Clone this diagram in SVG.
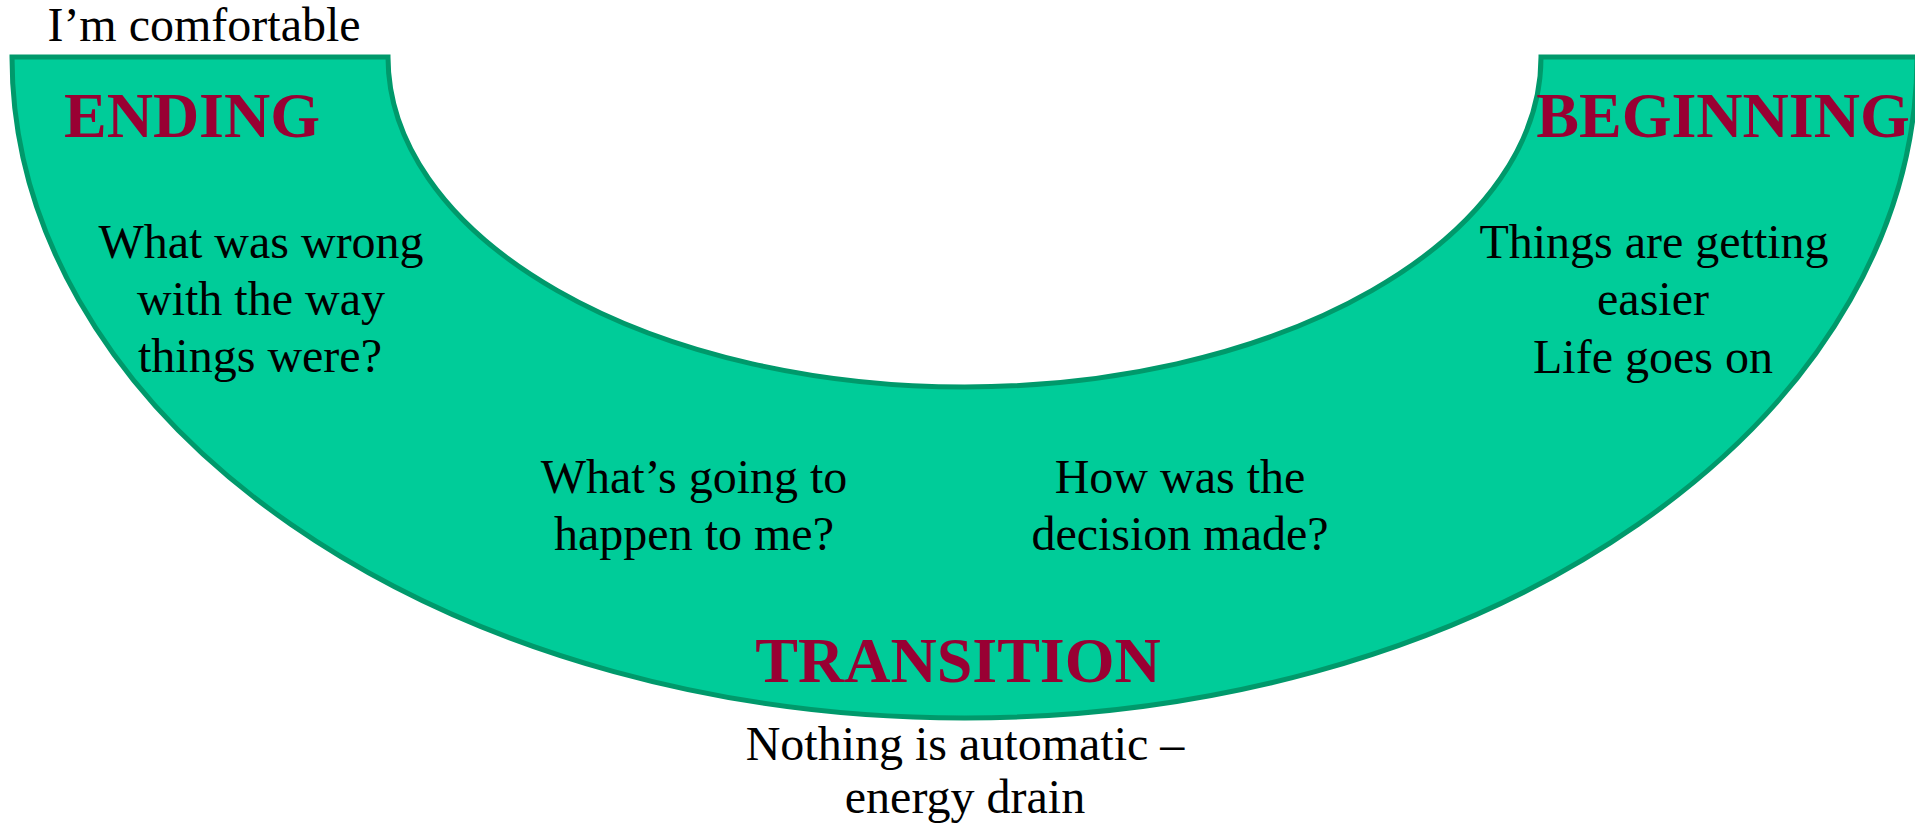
<svg xmlns="http://www.w3.org/2000/svg" width="1915" height="829" viewBox="0 0 1915 829">
  <style>
    .band { fill: #00CC99; stroke: #00996B; stroke-width: 5; stroke-linejoin: miter; }
    .t { font-family: "Liberation Serif", "Times New Roman", serif; font-size: 48px; fill: #000000; text-anchor: middle; }
    .h { font-family: "Liberation Serif", "Times New Roman", serif; font-size: 64px; font-weight: bold; fill: #990033; text-anchor: middle; }
  </style>
  <rect width="1915" height="829" fill="#FFFFFF"/>
  <g id="band">
    <path class="band" d="M 12 57 A 952.5 661 0 0 0 1917 57 L 1541 57 A 576.5 330 0 0 1 388 57 Z"/>
  </g>
  <g id="comfortable">
    <text class="t" x="204" y="41">I’m comfortable</text>
  </g>
  <g id="ending">
    <text class="h" x="192" y="137">ENDING</text>
    <text class="t" x="261" y="258">What was wrong</text>
    <text class="t" x="261" y="315">with the way</text>
    <text class="t" x="260" y="372">things were?</text>
  </g>
  <g id="beginning">
    <text class="h" x="1723" y="137">BEGINNING</text>
    <text class="t" x="1654" y="258">Things are getting</text>
    <text class="t" x="1653" y="315">easier</text>
    <text class="t" x="1653" y="373">Life goes on</text>
  </g>
  <g id="happen">
    <text class="t" x="694" y="493">What’s going to</text>
    <text class="t" x="694" y="550">happen to me?</text>
  </g>
  <g id="decision">
    <text class="t" x="1180" y="493">How was the</text>
    <text class="t" x="1180" y="550">decision made?</text>
  </g>
  <g id="transition">
    <text class="h" x="958" y="682">TRANSITION</text>
    <text class="t" x="965" y="760">Nothing is automatic –</text>
    <text class="t" x="965" y="813">energy drain</text>
  </g>
  <g id="connectors"/>
</svg>
